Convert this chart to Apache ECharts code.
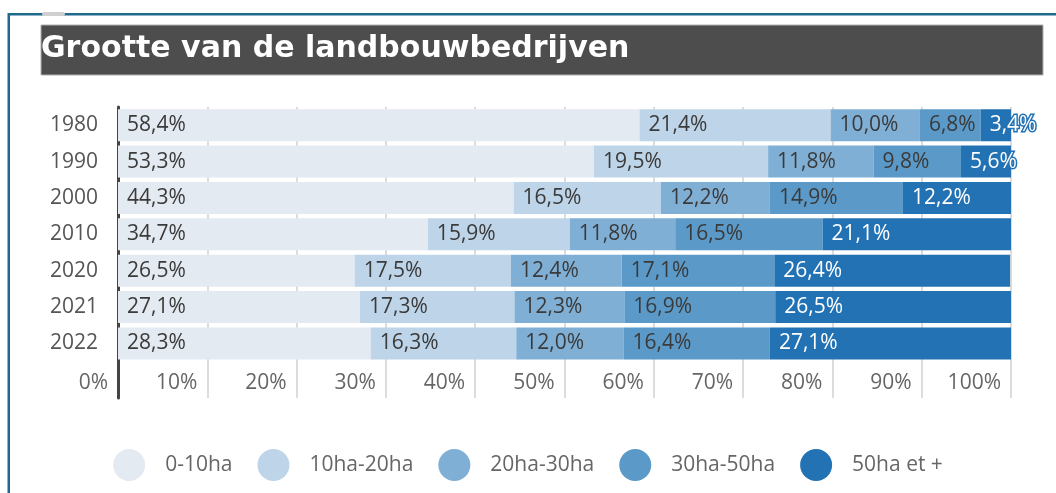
<!DOCTYPE html>
<html>
<head>
<meta charset="utf-8">
<script src="https://cdn.jsdelivr.net/npm/echarts@6/dist/echarts.min.js"></script>
<style>
    html, body { margin: 0; padding: 0; background: #fff; }
    #bar-chart { width: 1056px; height: 493px; }
</style>
</head>
<body>
<div id="bar-chart"></div>
<script>
// 1. data
var years = ['1980', '1990', '2000', '2010', '2020', '2021', '2022']
var sizeClasses = ['0-10ha', '10ha-20ha', '20ha-30ha', '30ha-50ha', '50ha et +']
var share0to10 = [58.4, 53.3, 44.3, 34.7, 26.5, 27.1, 28.3]
var share10to20 = [21.4, 19.5, 16.5, 15.9, 17.5, 17.3, 16.3]
var share20to30 = [10.0, 11.8, 12.2, 11.8, 12.4, 12.3, 12.0]
var share30to50 = [6.8, 9.8, 14.9, 16.5, 17.1, 16.9, 16.4]
var share50plus = [3.4, 5.6, 12.2, 21.1, 26.4, 26.5, 27.1]
var classColors = ['#e4eaf1', '#bed4e8', '#80afd5', '#5b9ac8', '#2272b4']

var FONT = 'Open Sans'

// empty last row keeps room for the x labels inside the grid
function rowData(values){
    return values.concat(['-'])
}

function pct(p){
    return p.value.toFixed(1).replace('.', ',') + '%'
}

function makeSeries(name, values, idx){
    var dark = idx === 4
    return {
        name: name,
        type: 'bar',
        stack: 'total',
        barWidth: 32,
        data: rowData(values),
        itemStyle: { color: classColors[idx] },
        label: {
            show: true,
            position: 'insideLeft',
            distance: 9,
            formatter: pct,
            fontFamily: FONT,
            fontSize: 21,
            color: dark ? '#fff' : '#3a3a3a',
            textBorderColor: dark ? classColors[idx] : 'transparent',
            textBorderWidth: dark ? 3 : 0
        }
    }
}

// 2. option
var option = {
    animation: false,
    textStyle: { fontFamily: FONT },
    graphic: [
        { type: 'rect', shape: { x: 8, y: 13, width: 1048, height: 2.5 }, style: { fill: '#1f6a8d' } },
        { type: 'rect', shape: { x: 7.5, y: 13, width: 2.5, height: 480 }, style: { fill: '#1f6a8d' } },
        { type: 'rect', shape: { x: 42, y: 12, width: 23, height: 4, r: 2 }, style: { fill: '#d0d0d0' } },
        { type: 'rect', shape: { x: 41, y: 25, width: 1002, height: 50 }, style: { fill: '#4d4d4d', stroke: '#b0b0b0', lineWidth: 1 } },
        {
            type: 'text',
            style: {
                x: 41, y: 49,
                text: 'Grootte van de landbouwbedrijven',
                fill: '#fff',
                font: 'bold 30px "DejaVu Sans"',
                verticalAlign: 'middle'
            }
        }
    ],
    legend: {
        data: sizeClasses,
        top: 444,
        left: 'center',
        icon: 'circle',
        itemWidth: 32,
        itemHeight: 32,
        itemGap: 25,
        textStyle: { fontFamily: FONT, fontSize: 21, color: '#666', padding: [0, 0, 0, 15] }
    },
    grid: { left: 118, right: 45, top: 107, bottom: 95, containLabel: false },
    xAxis: {
        type: 'value',
        min: 0,
        max: 100,
        interval: 10,
        axisLine: { show: false },
        axisTick: { show: false },
        splitLine: { show: true, lineStyle: { color: '#dcdcdc', width: 2 } },
        axisLabel: {
            inside: true,
            margin: 4,
            formatter: '{value}%',
            align: 'right',
            verticalAlign: 'bottom',
            padding: [0, 10, 0, 0],
            fontFamily: FONT,
            fontSize: 21,
            color: '#666'
        }
    },
    yAxis: {
        type: 'category',
        inverse: true,
        data: years.concat(['']),
        axisLine: { show: true, lineStyle: { color: '#444', width: 3 } },
        axisTick: { show: false },
        axisLabel: { margin: 20, fontFamily: FONT, fontSize: 21, color: '#555' }
    },
    series: [
        makeSeries(sizeClasses[0], share0to10, 0),
        makeSeries(sizeClasses[1], share10to20, 1),
        makeSeries(sizeClasses[2], share20to30, 2),
        makeSeries(sizeClasses[3], share30to50, 3),
        makeSeries(sizeClasses[4], share50plus, 4)
    ]
}

// 3. render
var dom = document.querySelector('#bar-chart')
var myChart = echarts.init(dom)
myChart.setOption(option, true)
</script>
</body>
</html>
